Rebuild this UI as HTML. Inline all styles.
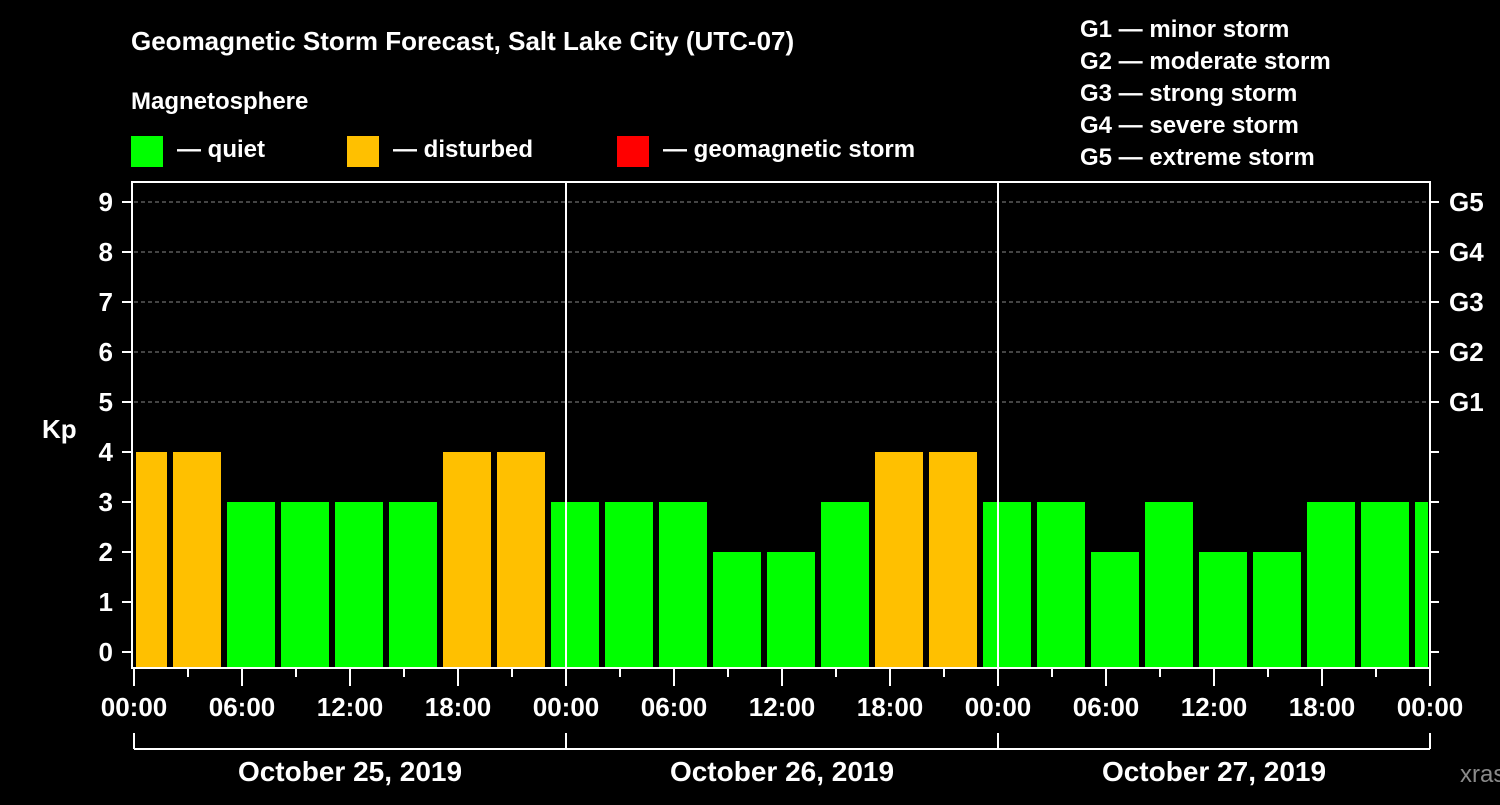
<!DOCTYPE html>
<html><head><meta charset="utf-8"><style>
body{margin:0;background:#000;}
svg text{font-family:"Liberation Sans",Arial,sans-serif;font-weight:bold;fill:#fff;}
</style></head><body>
<svg id="chart" width="1500" height="800" xmlns="http://www.w3.org/2000/svg">
<rect width="1500" height="800" fill="#000"/>
<text x="131" y="50" font-size="26">Geomagnetic Storm Forecast, Salt Lake City (UTC-07)</text>
<text x="131" y="109" font-size="24">Magnetosphere</text>
<g><rect x="131" y="136" width="32" height="31" fill="#00ff00"/><text x="177" y="157" font-size="24">— quiet</text></g>
<g><rect x="347" y="136" width="32" height="31" fill="#ffc000"/><text x="393" y="157" font-size="24">— disturbed</text></g>
<g><rect x="617" y="136" width="32" height="31" fill="#ff0000"/><text x="663" y="157" font-size="24">— geomagnetic storm</text></g>
<g font-size="24">
<text x="1080" y="37">G1 — minor storm</text>
<text x="1080" y="69">G2 — moderate storm</text>
<text x="1080" y="101">G3 — strong storm</text>
<text x="1080" y="133">G4 — severe storm</text>
<text x="1080" y="165">G5 — extreme storm</text>
</g>
<text x="42" y="438" font-size="26">Kp</text>
<text x="1460" y="782" font-size="24" fill="#888" style="fill:#8a8a8a;font-weight:normal">xras.ru</text>
<g id="plot"></g>
</svg>
<script>
const kpValues=[4,4,3,3,3,3,4,4,3,3,3,2,2,3,4,4,3,3,2,3,2,2,3,3,3];
const firstBlockHour=-1;
const blockHours=3;
const yTicks=[0,1,2,3,4,5,6,7,8,9];
const gLabels=["G1","G2","G3","G4","G5"];
const xTickLabels=["00:00","06:00","12:00","18:00","00:00","06:00","12:00","18:00","00:00","06:00","12:00","18:00","00:00"];
const dayLabels=["October 25, 2019","October 26, 2019","October 27, 2019"];
const X0=134,X1=1430,Y_TOP=182,Y_BOT=668,TOTAL_H=72;
const xs=h=>X0+(h/TOTAL_H)*(X1-X0);
const ys=v=>652-50*v;
const NS="http://www.w3.org/2000/svg";
const g=document.getElementById('plot');
function mk(t,a){const e=document.createElementNS(NS,t);for(const k in a)e.setAttribute(k,a[k]);g.appendChild(e);return e;}
// grid
yTicks.forEach(v=>{if(v>=5){const l=mk('line',{x1:X0,x2:X1,y1:ys(v),y2:ys(v),stroke:'#888','stroke-dasharray':'4,3','stroke-width':1});

}});
// bars
kpValues.forEach((v,i)=>{
 const hs=firstBlockHour+i*blockHours,he=hs+blockHours;
 let a=xs(hs)+3,b=xs(he)-3;
 a=Math.max(a,X0+2);b=Math.min(b,X1-2);
 const c=v>=5?'#ff0000':(v>=4?'#ffc000':'#00ff00');
 const r=mk('rect',{x:a,y:ys(v),width:b-a,height:Y_BOT-1-ys(v),fill:c});
 
 
});
// day separators
[24,48].forEach(h=>{const l=mk('line',{x1:xs(h),x2:xs(h),y1:Y_TOP,y2:Y_BOT,stroke:'#fff','stroke-width':2});

});
// frame
const f=mk('rect',{x:X0-2,y:Y_TOP,width:X1-X0+2,height:Y_BOT-Y_TOP,fill:'none',stroke:'#fff','stroke-width':2});


// y ticks
yTicks.forEach(v=>{
 mk('line',{x1:122,x2:X0-2,y1:ys(v),y2:ys(v),stroke:'#fff','stroke-width':2});
 mk('line',{x1:X1,x2:X1+9,y1:ys(v),y2:ys(v),stroke:'#fff','stroke-width':2});
 const t=mk('text',{x:113,y:ys(v)+9,'font-size':26,'text-anchor':'end'});t.textContent=v;
 
 
});
gLabels.forEach((s,i)=>{const t=mk('text',{x:1449,y:ys(5+i)+9,'font-size':26});t.textContent=s;
 
 });
// x ticks
for(let h=0;h<=TOTAL_H;h+=3){const major=h%6===0;
 mk('line',{x1:xs(h),x2:xs(h),y1:Y_BOT,y2:major?686:677,stroke:'#fff','stroke-width':2});}
xTickLabels.forEach((s,i)=>{const t=mk('text',{x:xs(i*6),y:716,'font-size':26,'text-anchor':'middle'});t.textContent=s;
 
 });
// date bracket
mk('line',{x1:X0,x2:X1,y1:749,y2:749,stroke:'#fff','stroke-width':2});
[0,24,48,72].forEach(h=>mk('line',{x1:xs(h),x2:xs(h),y1:733,y2:749,stroke:'#fff','stroke-width':2}));
dayLabels.forEach((s,i)=>{const t=mk('text',{x:xs(i*24+12),y:781,'font-size':28,'text-anchor':'middle'});t.textContent=s;
 
 });
</script>
</body></html>
